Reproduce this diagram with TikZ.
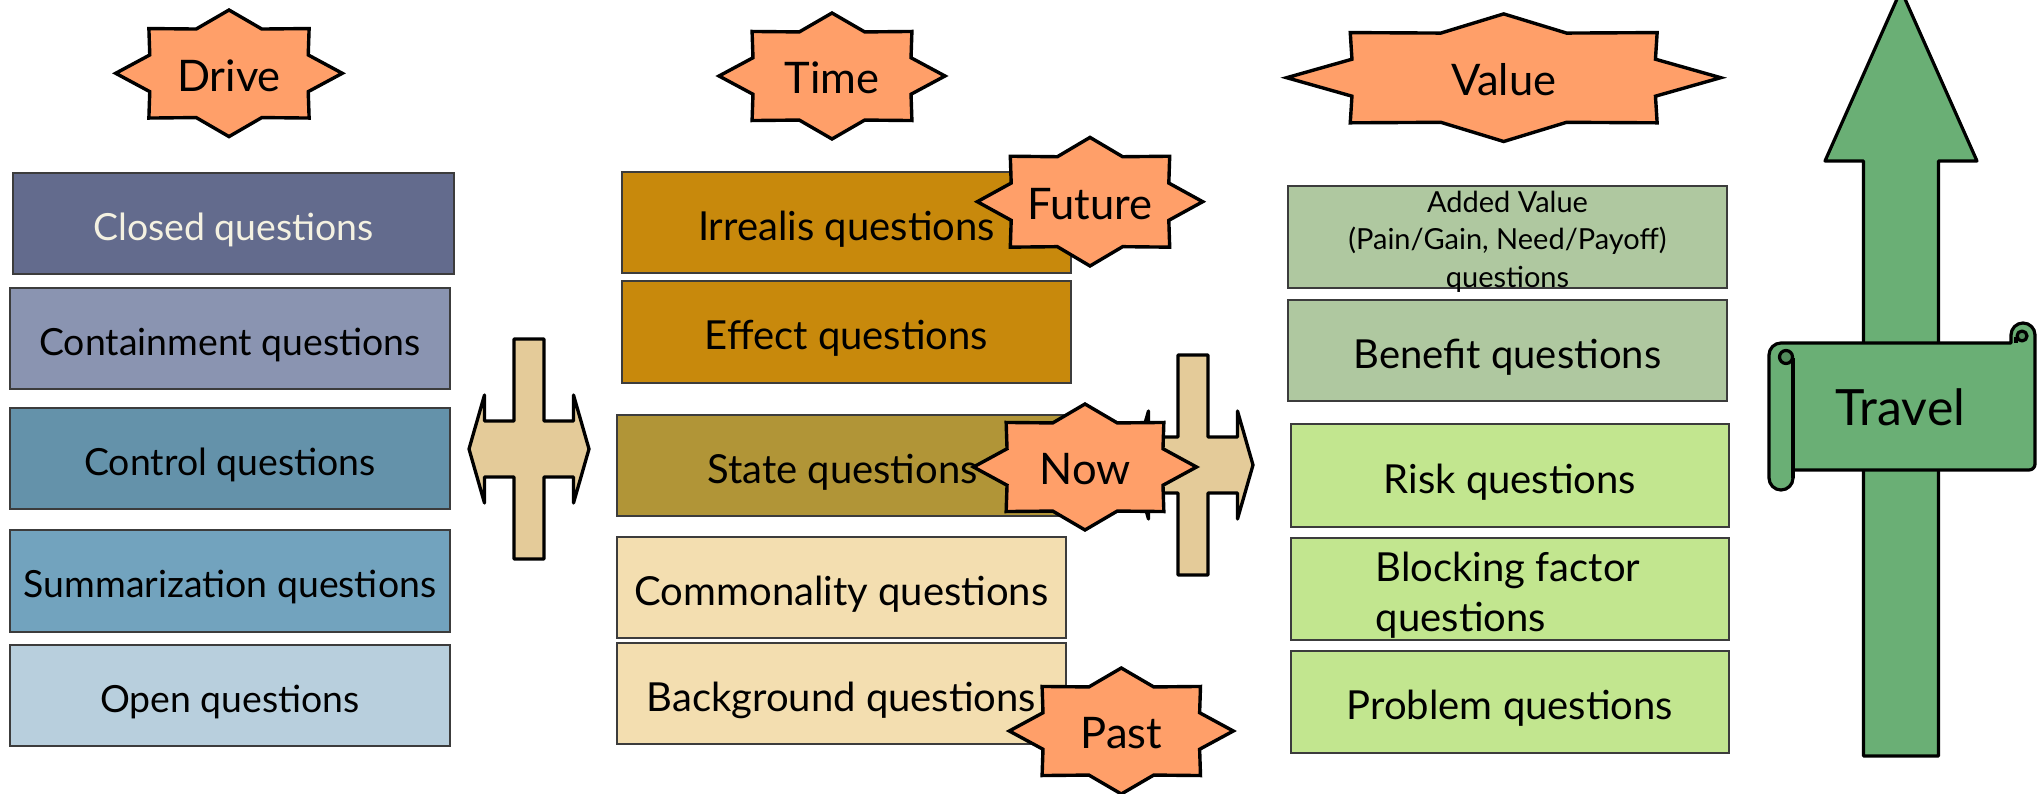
\documentclass[tikz,border=0pt]{standalone}
\usepackage{fontspec}
\setmainfont{Lato}
\definecolor{qclosed}{HTML}{636B8D}
\definecolor{qcontain}{HTML}{8A94B1}
\definecolor{qcontrol}{HTML}{6492AA}
\definecolor{qsumm}{HTML}{72A3BE}
\definecolor{qopen}{HTML}{B8CFDD}
\definecolor{qfuture}{HTML}{C8890C}
\definecolor{qnow}{HTML}{B19537}
\definecolor{qpast}{HTML}{F3DEB0}
\definecolor{qgain}{HTML}{AFC8A0}
\definecolor{qrisk}{HTML}{C2E68F}
\definecolor{sealfill}{HTML}{FF9F69}
\definecolor{crossfill}{HTML}{E4CB99}
\definecolor{travelfill}{HTML}{6AAF75}
\definecolor{traveldark}{HTML}{528C5C}
\definecolor{boxedge}{HTML}{3C3C3C}
\definecolor{closedtext}{HTML}{F4F1E1}

% eight-pointed seal, centre (#1,#2), radii #3 and #4
\newcommand\sealstar[4]{%
  \draw[seal, shift={(#1,#2)}, xscale=#3, yscale=#4]
    (0:1) -- (22.5:.757) -- (45:1) -- (67.5:.757) -- (90:1) -- (112.5:.757)
    -- (135:1) -- (157.5:.757) -- (180:1) -- (202.5:.757) -- (225:1)
    -- (247.5:.757) -- (270:1) -- (292.5:.757) -- (315:1) -- (337.5:.757) -- cycle;}

% cross with a left and a right arrow head, centre (#1,#2)
\newcommand\crossarrow[2]{%
  \draw[crossshape, shift={(#1,#2)}]
    (-15,-110) -- (15,-110) -- (15,-28) -- (44.5,-28) -- (44.5,-54) -- (60,0)
    -- (44.5,54) -- (44.5,28) -- (15,28) -- (15,110) -- (-15,110) -- (-15,28)
    -- (-44.5,28) -- (-44.5,54) -- (-60,0) -- (-44.5,-54) -- (-44.5,-28)
    -- (-15,-28) -- cycle;}

\begin{document}
\begin{tikzpicture}[x=1pt,y=-1pt,
  qframe/.style={draw=boxedge, line width=1.3pt, inner sep=0pt},
  qbox/.style={qframe, font=\fontsize{40}{48}\selectfont,
    text height=45.3pt, text depth=10pt},
  qboxsmall/.style={qframe, font=\fontsize{37.4}{45}\selectfont,
    text height=42.7pt, text depth=9.3pt},
  seal/.style={draw=black, fill=sealfill, line width=3.4pt, line join=miter},
  sealtext/.style={inner sep=0pt, font=\fontsize{43.5}{52}\selectfont,
    text height=31.2pt, text depth=0pt},
  crossshape/.style={draw=black, fill=crossfill, line width=3.3pt, line join=round},
  travelshape/.style={draw=black, fill=travelfill, line width=3.2pt, line join=round}]
\useasboundingbox (0,0) rectangle (2038,794);
\clip (0,0) rectangle (2038,794);

% drive column
\node[qboxsmall, fill=qclosed, text=closedtext, minimum width=441pt, minimum height=101pt]
  (closed) at (233.5,223.5) {Closed questions};
\node[qboxsmall, fill=qcontain, minimum width=440pt, minimum height=101pt]
  (containment) at (230,338.5) {Containment questions};
\node[qboxsmall, fill=qcontrol, minimum width=440pt, minimum height=101pt]
  (control) at (230,458.5) {Control questions};
\node[qboxsmall, fill=qsumm, minimum width=440pt, minimum height=102pt]
  (summarization) at (230,581) {Summarization questions};
\node[qboxsmall, fill=qopen, minimum width=440pt, minimum height=101pt]
  (open) at (230,695.5) {Open questions};

% time column
\node[qbox, fill=qfuture, minimum width=449pt, minimum height=101pt]
  (irrealis) at (846.5,222.5) {Irrealis questions};
\node[qbox, fill=qfuture, minimum width=449pt, minimum height=102pt]
  (effect) at (846.5,332) {Effect questions};
\node[qbox, fill=qnow, minimum width=451pt, minimum height=101pt]
  (state) at (842.5,465.5) {State questions};
\node[qbox, fill=qpast, minimum width=449pt, minimum height=101pt]
  (commonality) at (841.5,587.5) {Commonality questions};
\node[qbox, fill=qpast, minimum width=449pt, minimum height=101pt]
  (background) at (841.5,693.5) {Background questions};

% value column
\node[qframe, fill=qgain, minimum width=439pt, minimum height=102pt]
  (added) at (1507.5,237) {};
\node[align=center, inner sep=0pt, font=\fontsize{29}{37.7}\selectfont]
  (addedtext) at (1507.5,241.6) {Added Value\\(Pain/Gain, Need/Payoff)\\questions};
\node[qbox, fill=qgain, minimum width=439pt, minimum height=101pt]
  (benefit) at (1507.5,350.5) {Benefit questions};
\node[qbox, fill=qrisk, minimum width=438pt, minimum height=103pt]
  (risk) at (1510,475.5) {Risk questions};
\node[qframe, fill=qrisk, minimum width=438pt, minimum height=102pt]
  (blocking) at (1510,589) {};
\node[align=left, inner sep=0pt, font=\fontsize{40}{50}\selectfont]
  (blockingtext) at (1508,595) {Blocking factor\\questions};
\node[qbox, fill=qrisk, minimum width=438pt, minimum height=102pt]
  (problem) at (1510,702) {Problem questions};

% two-way crosses
\crossarrow{529}{449}
\crossarrow{1193}{465}

% seals with their labels
\sealstar{229}{73.3}{113.3}{63.3}
\node[sealtext] (drive) at (229,75.5) {Drive};
\sealstar{832}{76}{113}{63}
\node[sealtext] (time) at (832,78) {Time};
\sealstar{1503.7}{77.7}{217}{63.8}
\node[sealtext] (value) at (1503.7,79.7) {Value};
\sealstar{1090}{201.7}{112.7}{64.3}
\node[sealtext] (future) at (1090,203.5) {Future};
\sealstar{1085}{467}{111.5}{63}
\node[sealtext] (now) at (1085,469) {Now};
\sealstar{1121.3}{731}{112}{63}
\node[sealtext] (past) at (1121.3,733) {Past};

% travel arrow
\draw[travelshape] (1901,-10) -- (1977,161) -- (1938.5,161) -- (1938.5,756)
  -- (1863.5,756) -- (1863.5,161) -- (1825,161) -- cycle;

% scroll banner
\draw[travelshape]
  (1793,470) -- (2029,470) arc[start angle=270, end angle=360, radius=6pt]
  -- (2035,335) arc[start angle=0, end angle=180, radius=12pt]
  -- (2011,343) -- (1781,343) arc[start angle=90, end angle=180, radius=12pt]
  -- (1769,478) arc[start angle=180, end angle=360, radius=12pt] -- cycle;
\draw[travelshape] (1793,478) -- (1793,358);
\draw[travelshape, fill=traveldark] (1786,357) circle[radius=6.5pt];
\draw[travelshape, fill=traveldark] (2022,336) circle[radius=5pt];
\draw[travelshape] (2016,337) -- (2016,343);
\node[inner sep=0pt, font=\fontsize{50}{58}\selectfont, text height=35.8pt, text depth=0pt]
  (travel) at (1900.5,408) {Travel};
\end{tikzpicture}
\end{document}
